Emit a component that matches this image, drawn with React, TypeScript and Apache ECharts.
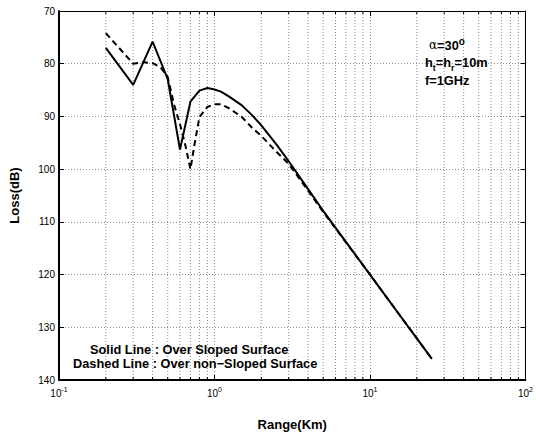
import React, { useEffect, useRef } from "react";
import * as echarts from "echarts";

const rangeSolid = [0.2, 0.3, 0.4, 0.5, 0.6, 0.7, 0.8, 0.9, 1.0, 1.1, 1.25, 1.5, 1.75, 2, 2.5, 3, 4, 5, 7, 10, 15, 20, 25];
const lossSolid = [77, 84, 75.8, 82.9, 96.3, 87.2, 85.1, 84.6, 84.9, 85.3, 86.3, 87.9, 89.8, 91.7, 95.3, 98.5, 103.8, 107.9, 113.8, 120, 127.1, 132.1, 136];

const rangeDashed = [0.2, 0.3, 0.35, 0.4, 0.45, 0.5, 0.55, 0.6, 0.65, 0.7, 0.75, 0.8, 0.9, 1.0, 1.1, 1.25, 1.5, 1.75, 2, 2.5, 3, 4, 5, 7, 10, 15, 20, 25];
const lossDashed = [74.2, 80, 79.7, 79.9, 80.7, 82.5, 87.8, 91.5, 95.5, 100, 94.7, 90.1, 88.2, 87.7, 87.7, 88.5, 90.1, 92.2, 93.7, 96.7, 99, 104.1, 108.1, 113.9, 120, 127.1, 132.1, 136];

const minorRangeTicks = [0.2, 0.3, 0.4, 0.5, 0.6, 0.7, 0.8, 0.9, 2, 3, 4, 5, 6, 7, 8, 9, 20, 30, 40, 50, 60, 70, 80, 90];

const lossMin = 70;
const lossMax = 140;
const lossStep = 10;
const rangeMin = 0.1;
const rangeMax = 100;

const solidNote = "Solid Line : Over Sloped Surface";
const dashedNote = "Dashed Line : Over non\u2212Sloped Surface";

const FONT = "'Liberation Sans', Arial, Helvetica, sans-serif";
const GRID_COLOR = "#8f8f8f";

export default function App() {
  const ref = useRef<HTMLDivElement>(null);

  useEffect(() => {
    if (!ref.current) return;
    const chart = echarts.init(ref.current, null, { renderer: "svg" });

    const boldText = { fontFamily: FONT, fontWeight: "bold" as const, fontSize: 13, color: "#000" };

    const option: any = {
      animation: false,
      backgroundColor: "#fff",
      grid: { left: 55, right: 6, top: 11, bottom: 50, containLabel: false },
      xAxis: [
        {
          type: "log",
          logBase: 10,
          min: rangeMin,
          max: rangeMax,
          position: "bottom",
          name: "Range(Km)",
          nameLocation: "middle",
          nameGap: 38,
          nameTextStyle: boldText,
          axisLine: { show: true, onZero: false, lineStyle: { color: "#000", width: 2 } },
          axisTick: { show: true, inside: true, length: 5, lineStyle: { color: "#000", width: 1 } },
          axisLabel: {
            margin: 6,
            color: "#000",
            fontFamily: FONT,
            fontSize: 10,
            formatter: (v: number) => {
              const e = Math.round(Math.log10(v));
              return "{b|10}{s|" + e + "}";
            },
            rich: {
              b: { fontFamily: FONT, fontSize: 10, color: "#000", lineHeight: 14 },
              s: { fontFamily: FONT, fontSize: 7, color: "#000", verticalAlign: "top", lineHeight: 8 },
            },
          },
          splitLine: { show: true, lineStyle: { color: GRID_COLOR, type: [1, 2], width: 1 } },
        },
        {
          type: "log",
          logBase: 10,
          min: rangeMin,
          max: rangeMax,
          position: "top",
          axisLine: { show: true, onZero: false, lineStyle: { color: "#000", width: 1 } },
          axisTick: { show: true, inside: true, length: 5, lineStyle: { color: "#000", width: 1 } },
          axisLabel: { show: false },
          splitLine: { show: false },
        },
      ],
      yAxis: [
        {
          type: "value",
          inverse: true,
          min: lossMin,
          max: lossMax,
          interval: lossStep,
          name: "Loss(dB)",
          nameLocation: "middle",
          nameGap: 38,
          nameTextStyle: boldText,
          axisLine: { show: true, onZero: false, lineStyle: { color: "#000", width: 2 } },
          axisTick: { show: true, inside: true, length: 5, lineStyle: { color: "#000", width: 1 } },
          axisLabel: { margin: 4, color: "#000", fontFamily: FONT, fontSize: 10 },
          splitLine: { show: true, lineStyle: { color: GRID_COLOR, type: [1, 2], width: 1 } },
        },
        {
          type: "value",
          inverse: true,
          min: lossMin,
          max: lossMax,
          interval: lossStep,
          position: "right",
          axisLine: { show: true, onZero: false, lineStyle: { color: "#000", width: 1 } },
          axisTick: { show: true, inside: true, length: 5, lineStyle: { color: "#000", width: 1 } },
          axisLabel: { show: false },
          splitLine: { show: false },
        },
      ],
      series: [
        {
          type: "custom",
          xAxisIndex: 0,
          yAxisIndex: 0,
          silent: true,
          z: 1,
          data: minorRangeTicks.map((x) => [x, lossMin]),
          renderItem: (params: any, api: any) => {
            const x = api.value(0);
            const top = api.coord([x, lossMin]);
            const bot = api.coord([x, lossMax]);
            return {
              type: "group",
              children: [
                {
                  type: "line",
                  shape: { x1: top[0], y1: top[1], x2: bot[0], y2: bot[1] },
                  style: { stroke: GRID_COLOR, lineWidth: 1, lineDash: [1, 2] },
                },
                {
                  type: "line",
                  shape: { x1: bot[0], y1: bot[1], x2: bot[0], y2: bot[1] - 3 },
                  style: { stroke: "#000", lineWidth: 1 },
                },
                {
                  type: "line",
                  shape: { x1: top[0], y1: top[1], x2: top[0], y2: top[1] + 3 },
                  style: { stroke: "#000", lineWidth: 1 },
                },
              ],
            };
          },
        },
        {
          type: "line",
          name: "Over Sloped Surface",
          xAxisIndex: 0,
          yAxisIndex: 0,
          z: 3,
          symbol: "none",
          showSymbol: false,
          data: rangeSolid.map((x, i) => [x, lossSolid[i]]),
          lineStyle: { color: "#000", width: 2, type: "solid" },
        },
        {
          type: "line",
          name: "Over non-Sloped Surface",
          xAxisIndex: 0,
          yAxisIndex: 0,
          z: 3,
          symbol: "none",
          showSymbol: false,
          data: rangeDashed.map((x, i) => [x, lossDashed[i]]),
          lineStyle: { color: "#000", width: 2, type: [6, 4] },
        },
      ],
      graphic: [
        {
          type: "text",
          x: 429,
          y: 45,
          z: 10,
          style: {
            text: "{a|\u03b1}{b|=30}{c|o}",
            verticalAlign: "middle",
            align: "left",
            rich: {
              a: { fontFamily: "'DejaVu Serif', serif", fontSize: 12, color: "#000", lineHeight: 18 },
              b: { fontFamily: FONT, fontWeight: "bold", fontSize: 12.8, color: "#000", lineHeight: 18 },
              c: { fontFamily: FONT, fontWeight: "bold", fontSize: 10, color: "#000", verticalAlign: "top", lineHeight: 10 },
            },
          },
        },
        {
          type: "text",
          x: 425,
          y: 62,
          z: 10,
          style: {
            text: "{b|h}{s|t}{b|=h}{s|r}{b|=10m}",
            verticalAlign: "middle",
            align: "left",
            rich: {
              b: { fontFamily: FONT, fontWeight: "bold", fontSize: 12.8, color: "#000", lineHeight: 20 },
              s: { fontFamily: FONT, fontWeight: "bold", fontSize: 9, color: "#000", verticalAlign: "bottom", lineHeight: 9 },
            },
          },
        },
        {
          type: "text",
          x: 425,
          y: 80.5,
          z: 10,
          style: { text: "f=1GHz", font: "bold 12.8px " + FONT, fill: "#000", verticalAlign: "middle", align: "left" },
        },
        {
          type: "text",
          x: 90,
          y: 349,
          z: 10,
          style: { text: solidNote, font: "bold 12.8px " + FONT, fill: "#000", verticalAlign: "middle", align: "left" },
        },
        {
          type: "text",
          x: 73,
          y: 363.5,
          z: 10,
          style: { text: dashedNote, font: "bold 12.8px " + FONT, fill: "#000", verticalAlign: "middle", align: "left" },
        },
      ],
    };

    chart.setOption(option);
    return () => chart.dispose();
  }, []);

  return <div ref={ref} style={{ width: 536, height: 436, position: "absolute", left: 0, top: 0 }} />;
}
